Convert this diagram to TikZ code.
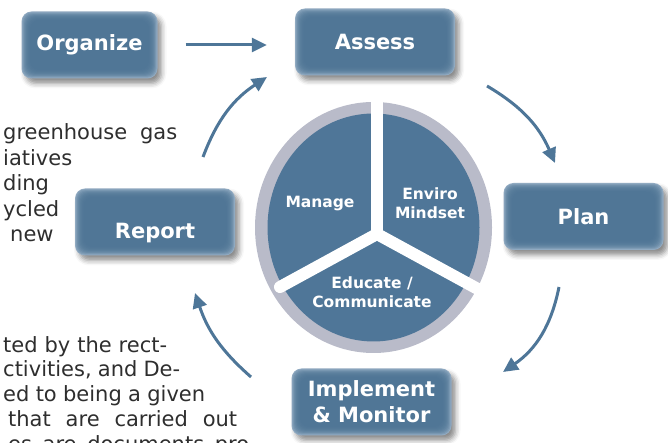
\documentclass[tikz,border=0pt]{standalone}
\usepackage{fontspec}
\setmainfont{DejaVu Sans}
\usetikzlibrary{arrows.meta,shadows.blur}

\definecolor{boxblue}{HTML}{4E7596}
\definecolor{boxedge}{HTML}{93ACC3}
\definecolor{flowblue}{HTML}{4E7698}
\definecolor{ringgray}{HTML}{B9BBC9}
\definecolor{pieblue}{HTML}{4F7698}
\definecolor{bodytext}{HTML}{2E2E2E}

\tikzset{
  stage/.style={rounded corners=10pt, minimum width=160pt, minimum height=67pt,
    fill=boxedge, text=white, align=center,
    font=\fontsize{21}{26}\selectfont\bfseries,
    blur shadow={shadow xshift=4pt, shadow yshift=-5pt, shadow blur radius=5pt, shadow opacity=45},
    path picture={\foreach \k in {1,...,10}{
      \fill[boxblue, opacity=0.25, rounded corners=9pt]
        ([shift={(0.9*\k pt,0.9*\k pt)}]path picture bounding box.south west) rectangle
        ([shift={(-0.9*\k pt,-0.9*\k pt)}]path picture bounding box.north east);}}},
  flow/.style={flowblue, line width=3pt, -{Triangle[length=15pt,width=14pt]}},
  spoke/.style={white, line width=12pt, line cap=round},
  pielabel/.style={text=white, font=\fontsize{15.5}{19.5}\selectfont\bfseries, align=center},
  bgtext/.style={anchor=base west, inner sep=0pt, text=bodytext, font=\fontsize{21}{25}\selectfont},
}

\begin{document}
\begin{tikzpicture}[x=1pt,y=1pt]
  \useasboundingbox (0,0) rectangle (668,443);
  \clip (0,0) rectangle (668,443);

  % page text behind the cycle
  \node[bgtext] (t1) at (3,303) {\makebox[174pt][s]{greenhouse gas}};
  \node[bgtext] (t2) at (3,277.5) {iatives};
  \node[bgtext] (t3) at (3,252) {ding};
  \node[bgtext] (t4) at (3,226.5) {ycled};
  \node[bgtext] (t5) at (10,201) {new};

  \node[bgtext] (t6) at (3,90) {\makebox[164pt][s]{ted by the rect-}};
  \node[bgtext] (t7) at (3,66) {\makebox[177pt][s]{ctivities, and De-}};
  \node[bgtext] (t8) at (3,41) {\makebox[202pt][s]{ed to being a given}};
  \node[bgtext] (t9) at (8,16) {\makebox[229pt][s]{that are carried out}};
  \node[bgtext] (t10) at (8,-9) {\makebox[241pt][s]{es are documents pro}};

  % wheel
  \fill[ringgray] (373.5,215.5) ellipse [x radius=118.5, y radius=125.5];
  \fill[pieblue] (373.5,215.5) ellipse [x radius=106, y radius=114];
  \coordinate (hub) at (377,209);
  \coordinate (hubtop) at (377,343);
  \coordinate (hubleft) at (280,156);
  \coordinate (hubright) at (487,149);
  \draw[spoke] (hub) -- (hubtop);
  \draw[spoke] (hub) -- (hubleft);
  \draw[spoke] (hub) -- (hubright);

  \node[pielabel] (manage) at (320,239) {Manage};
  \node[pielabel] (mindset) at (430,240) {Enviro\\Mindset};
  \node[pielabel] (educate) at (372,151) {Educate /\\Communicate};

  % stages
  \node[stage, minimum width=136pt] (organize) at (89.5,398) {Organize};
  \node[stage] (assess) at (375,401) {Assess};
  \node[stage] (plan) at (583.5,226.5) {Plan};
  \node[stage, text height=38pt] (report) at (155,221) {Report};
  \node[stage] (implement) at (371.5,41) {Implement\\\& Monitor};

  % arrows round the wheel
  \coordinate (ra) at (203,286);
  \coordinate (rb) at (267,366);
  \coordinate (pa) at (487,357);
  \coordinate (pb) at (555,280);
  \coordinate (ia) at (559,156);
  \coordinate (ib) at (503,71);
  \coordinate (ma) at (251,66);
  \coordinate (mb) at (195,150);

  \draw[flow, shorten <=28pt, shorten >=28pt] (organize.east) -- (organize.east -| assess.west);
  \draw[flow] (ra) to[bend left=18] (rb);
  \draw[flow] (pa) to[bend left=18] (pb);
  \draw[flow] (ia) to[bend left=22] (ib);
  \draw[flow] (ma) to[bend left=15] (mb);

\end{tikzpicture}
\end{document}
